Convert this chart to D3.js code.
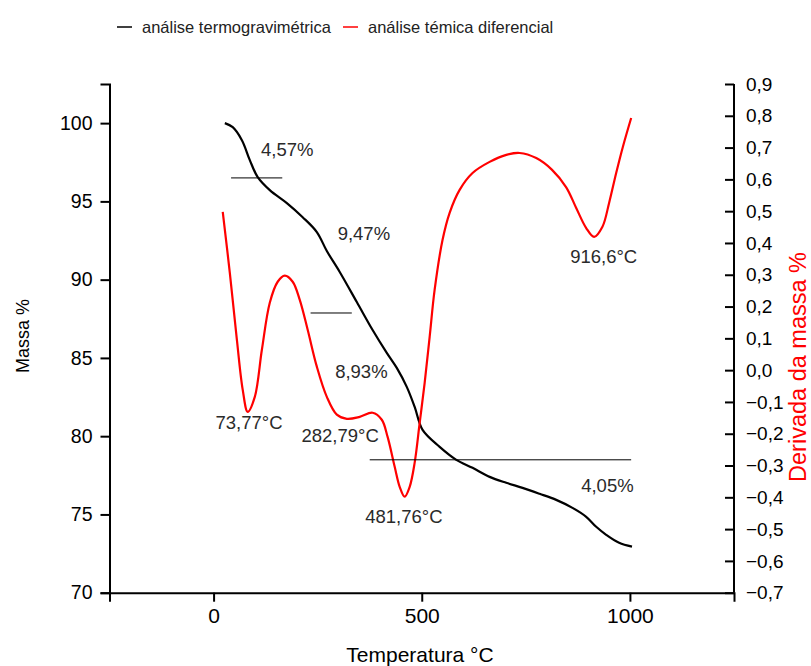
<!DOCTYPE html>
<html lang="pt">
<head>
<meta charset="utf-8">
<title>TG / DTG</title>
<script src="https://cdn.jsdelivr.net/npm/d3@7"></script>
<style>
  body, html { margin:0; padding:0; background:#fff; }
  svg { display:block; font-family: "Liberation Sans", Arial, sans-serif; }
  .axis path, .axis line { stroke:#000; stroke-width:2; }
  .axis text { fill:#000; }
</style>
</head>
<body>
<svg id="chart" width="811" height="666"></svg>
<script>
// termogravimetria (massa %) vs temperatura
var tgTemp = [27, 46, 68, 87, 106, 135, 176, 214, 248, 272, 303, 344, 382, 416, 440, 464, 483, 502,
              543, 583, 622, 663, 703, 742, 783, 823, 862, 895, 919, 943, 974, 1005];
var tgMass = [100.0, 99.74, 98.91, 97.64, 96.55, 95.72, 94.89, 93.99, 93.04, 91.83, 90.49, 88.57, 86.78,
              85.32, 84.36, 83.15, 81.87, 80.40, 79.32, 78.49, 77.98, 77.40, 77.02, 76.70, 76.32, 75.93,
              75.42, 74.85, 74.21, 73.70, 73.19, 72.94];

// derivada da massa
var dtgTemp = [22, 39, 56, 70, 82, 99, 116, 135, 154, 171, 190, 207, 226, 248, 272, 296, 320, 351, 382,
               404, 418, 435, 447, 459, 471, 483, 495, 507, 519, 531, 550, 567, 591, 622, 663, 703, 735,
               775, 813, 847, 871, 895, 914, 934, 950, 967, 983, 1003];
var dtgDeriv = [0.498, 0.306, 0.095, -0.062, -0.131, -0.084, 0.064, 0.212, 0.278, 0.297, 0.278, 0.221,
                0.127, 0.011, -0.084, -0.140, -0.153, -0.147, -0.134, -0.156, -0.210, -0.304, -0.367,
                -0.398, -0.367, -0.291, -0.166, -0.040, 0.105, 0.253, 0.410, 0.495, 0.567, 0.620, 0.655,
                0.677, 0.683, 0.667, 0.630, 0.575, 0.510, 0.447, 0.419, 0.451, 0.526, 0.620, 0.702, 0.793];

// linhas de patamar (massa %, de T1 a T2)
var stepMass = [96.5, 87.87, 78.49];
var stepFrom = [42, 233, 375];
var stepTo   = [165, 332, 1003];

// rótulos (texto, temperatura, massa %)
var noteText = ["4,57%", "9,47%", "8,93%", "73,77°C", "282,79°C", "481,76°C", "916,6°C", "4,05%"];
var noteTemp = [177, 361, 355, 85, 304, 457, 937, 946];
var noteMass = [97.9, 92.52, 83.71, 80.45, 79.62, 74.45, 91.05, 76.43];

var xTicks = [0, 500, 1000];
var yLeftTicks = [70, 75, 80, 85, 90, 95, 100];
var yRightTicks = d3.range(-7, 10).map(function(d){ return d / 10; });

var legendNames = ["análise termogravimétrica", "análise témica diferencial"];
var legendColors = ["#000", "#ff0000"];

var svg = d3.select('#chart');
var m = { top: 84, right: 77, bottom: 73.3, left: 109.5 };
var W = 811, H = 666;

var x = d3.scaleLinear().domain([-250, 1250]).range([m.left, W - m.right]);
var yL = d3.scaleLinear().domain([70, 102.5]).range([H - m.bottom, m.top]);
var yR = d3.scaleLinear().domain([-0.7, 0.9]).range([H - m.bottom, m.top]);

var comma = function(f) { return function(d) { return f(d).replace('.', ','); }; };

// eixo x
var gx = svg.append('g').attr('class', 'axis')
  .attr('transform', 'translate(0,' + (H - m.bottom) + ')');
gx.call(d3.axisBottom(x).tickValues([-250, 250, 750, 1250]).tickSize(5).tickFormat(''));
gx.call(d3.axisBottom(x).tickValues(xTicks).tickSize(9).tickPadding(6).tickFormat(d3.format('d')));
gx.selectAll('text').style('font-size', '21px');

// eixo esquerdo
var gl = svg.append('g').attr('class', 'axis').attr('transform', 'translate(' + m.left + ',0)');
gl.call(d3.axisLeft(yL).tickValues(d3.range(72.5, 103, 5)).tickSize(5).tickFormat(''));
gl.call(d3.axisLeft(yL).tickValues(yLeftTicks).tickSize(9).tickPadding(8).tickFormat(d3.format('d')));
gl.selectAll('text').style('font-size', '19.5px');

// eixo direito (ticks para dentro)
var gr = svg.append('g').attr('class', 'axis').attr('transform', 'translate(' + (W - m.right) + ',0)');
gr.call(d3.axisRight(yR).tickValues(d3.range(-0.65, 0.9, 0.1)).tickSize(-5).tickFormat(''));
gr.call(d3.axisRight(yR).tickValues(yRightTicks).tickSize(-9).tickPadding(12).tickFormat(comma(d3.format('.1f'))));
gr.selectAll('text').style('font-size', '19px');
gr.selectAll('path').attr('d', 'M0,' + (H - m.bottom) + 'V' + m.top);

// curvas
var tgLine = d3.line().curve(d3.curveCatmullRom.alpha(0.5))
  .x(function(d, i){ return x(tgTemp[i]); })
  .y(function(d){ return yL(d); });
svg.append('path').datum(tgMass).attr('d', tgLine)
  .attr('fill', 'none').attr('stroke', '#000').attr('stroke-width', 2.2);

var dtgLine = d3.line().curve(d3.curveCatmullRom.alpha(0.5))
  .x(function(d, i){ return x(dtgTemp[i]); })
  .y(function(d){ return yR(d); });
svg.append('path').datum(dtgDeriv).attr('d', dtgLine)
  .attr('fill', 'none').attr('stroke', '#ff0000').attr('stroke-width', 2.2);

// patamares
svg.selectAll('.step').data(stepMass).enter().append('line')
  .attr('class', 'step')
  .attr('x1', function(d, i){ return x(stepFrom[i]); })
  .attr('x2', function(d, i){ return x(stepTo[i]); })
  .attr('y1', function(d){ return yL(d); })
  .attr('y2', function(d){ return yL(d); })
  .attr('stroke', '#000').attr('stroke-width', 1);

// rótulos
svg.selectAll('.note').data(noteText).enter().append('text')
  .attr('class', 'note')
  .attr('x', function(d, i){ return x(noteTemp[i]); })
  .attr('y', function(d, i){ return yL(noteMass[i]); })
  .attr('text-anchor', 'middle')
  .style('font-size', '18.5px').style('fill', '#2a2a2a')
  .text(function(d){ return d; });

// títulos dos eixos
svg.append('text').attr('x', 420).attr('y', 662)
  .attr('text-anchor', 'middle').style('font-size', '21px').text('Temperatura °C');
svg.append('text').attr('transform', 'translate(29,336) rotate(-90)')
  .attr('text-anchor', 'middle').style('font-size', '18px').text('Massa %');
svg.append('text').attr('transform', 'translate(806,367) rotate(-90)')
  .attr('text-anchor', 'middle').style('font-size', '23.5px').style('fill', '#ff0000')
  .text('Derivada da massa %');

// legenda
var legX = [117, 343];
var lg = svg.selectAll('.leg').data(legendNames).enter().append('g')
  .attr('class', 'leg')
  .attr('transform', function(d, i){ return 'translate(' + legX[i] + ',27)'; });
lg.append('line').attr('x1', 0).attr('x2', 15).attr('y1', 0).attr('y2', 0)
  .attr('stroke', function(d, i){ return legendColors[i]; }).attr('stroke-width', 1.5);
lg.append('text').attr('x', 25).attr('y', 6).style('font-size', '16.5px').style('fill', '#222')
  .text(function(d){ return d; });
</script>
</body>
</html>
